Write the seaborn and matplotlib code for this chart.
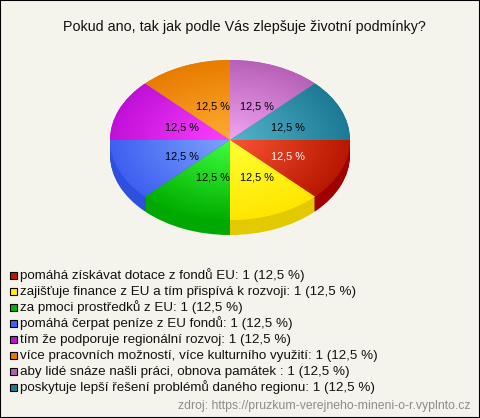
import numpy as np
import matplotlib
matplotlib.use("Agg")
import matplotlib.pyplot as plt
from matplotlib.patches import Rectangle
import seaborn as sns

title = "Pokud ano, tak jak podle Vás zlepšuje životní podmínky?"
source = "zdroj: https://pruzkum-verejneho-mineni-o-r.vyplnto.cz"
categories = [
    "pomáhá získávat dotace z fondů EU",
    "zajišťuje finance z EU a tím přispívá k rozvoji",
    "za pmoci prostředků z EU",
    "pomáhá čerpat peníze z EU fondů",
    "tím že podporuje regionální rozvoj",
    "více pracovních možností, více kulturního využití",
    "aby lidé snáze našli práci, obnova památek ",
    "poskytuje lepší řešení problémů daného regionu",
]
counts = [1, 1, 1, 1, 1, 1, 1, 1]
inner_colors = ["#FA5533", "#FFFF33", "#40FF40", "#7CA4FF", "#FF40FF", "#FFAC33", "#F2A4F2", "#55B4CC"]
outer_colors = ["#B81800", "#FFE600", "#00AE00", "#3F5FF0", "#C010D8", "#E87C00", "#B860B8", "#1C7A94"]
side_colors = ["#A00000", "#E3CA00", "#00A800", "#2E50DC", "#8A008A", "#B06000", "#804080", "#105060"]
legend_colors = ["#C01800", "#FFEE00", "#00B400", "#4060FF", "#C010D0", "#E87800", "#B860B0", "#1C7C94"]
label_colors = ["white"] + ["black"] * 7

sns.set_theme(style="white")
plt.rcParams["font.family"] = ["Liberation Sans", "DejaVu Sans"]

W, H = 480, 418
BG = "#F4F4EC"
fig = plt.figure(figsize=(W / 100, H / 100), dpi=100, facecolor=BG)
fig.add_artist(Rectangle((0, 0), 1, 1, transform=fig.transFigure, fill=False,
                         edgecolor="black", linewidth=1.5))

cx, cy, rx, ry, depth = 230, 140, 120, 80, 15
x0, x1, y0, y1 = -1.1, 1.1, -1.4, 1.1
ax = fig.add_axes([(cx + x0 * rx) / W, 1 - (cy - y0 * ry) / H,
                   (x1 - x0) * rx / W, (y1 - y0) * ry / H])

# extruded side: lower half only
for off in np.arange(depth, 0, -1.0):
    wedges, _ = ax.pie(counts, colors=side_colors, startangle=0, counterclock=False,
                       center=(0, -off / ry), radius=1, wedgeprops={"linewidth": 0})
    for i, w in enumerate(wedges):
        if i >= 4:
            w.set_visible(False)

# top face
wedges, _, autotexts = ax.pie(
    counts, colors=outer_colors, startangle=0, counterclock=False, radius=1,
    autopct=lambda p: f"{p:.1f} %".replace(".", ","), pctdistance=0.475,
    wedgeprops={"linewidth": 0}, textprops={"fontsize": 7.8},
)
for t, c in zip(autotexts, label_colors):
    t.set_color(c)
    t.set_zorder(10)
    px, py = t.get_position()
    t.set_position((px + 5 / rx, py - 2 / ry))

gx, gy = np.meshgrid(np.linspace(-1, 1, 400), np.linspace(-1, 1, 400))
radial = np.clip(np.hypot(gx, gy), 0, 1)
for w, inner, outer in zip(wedges, inner_colors, outer_colors):
    cmap = sns.blend_palette([inner, outer], as_cmap=True)
    im = ax.imshow(radial, extent=(-1, 1, -1, 1), origin="lower", cmap=cmap,
                   vmin=0, vmax=1, aspect="auto", zorder=w.get_zorder() + 0.5)
    im.set_clip_path(w)

ax.set_xlim(x0, x1)
ax.set_ylim(y0, y1)
ax.set_aspect("auto")
ax.axis("off")

fig.text(244 / W, 1 - 27 / H, title, ha="center", va="center", fontsize=10.3, color="#111111")

# legend: evenly spaced rows
labels = [f"{n}: {v} ({v / sum(counts) * 100:.1f} %)".replace(".", ",")
          for n, v in zip(categories, counts)]
for i, (lab, col) in enumerate(zip(labels, legend_colors)):
    base = 279 + 16 * i
    fig.add_artist(Rectangle((9.5 / W, 1 - (base - 0.5) / H), 7 / W, 7 / H,
                             transform=fig.transFigure, facecolor=col,
                             edgecolor="black", linewidth=0.8))
    fig.text(20 / W, 1 - base / H, lab, ha="left", va="baseline", fontsize=9.6, color="#111111")

fig.text(470 / W, 1 - 406 / H, source, ha="right", va="center", fontsize=8.85, color="#8C8C8C")

fig.savefig("out.png", dpi=100, facecolor=BG)
